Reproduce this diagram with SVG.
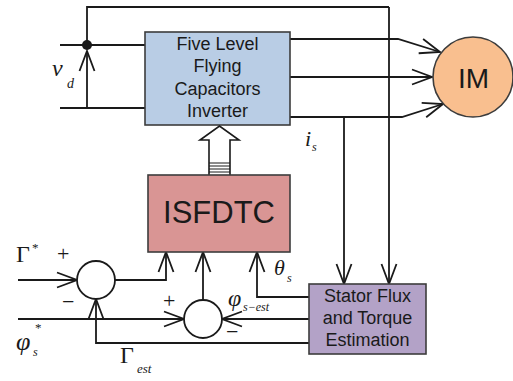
<svg xmlns="http://www.w3.org/2000/svg" width="513" height="381" viewBox="0 0 513 381">
<defs>
<marker id="ah" markerUnits="userSpaceOnUse" viewBox="-22 -9 24 18" refX="0" refY="0" markerWidth="24" markerHeight="18" orient="auto">
<path d="M-20,-7.5 L0,0 L-20,7.5" fill="none" stroke="#1a1a1a" stroke-width="1.8"/>
</marker>
</defs>
<style>
.w{fill:none;stroke:#1a1a1a;stroke-width:1.8}
.a{marker-end:url(#ah)}
.box{stroke:#3c3c3c;stroke-width:1.6}
.t{font-family:"Liberation Sans",Arial,sans-serif;fill:#1a1a1a;text-anchor:middle}
.m{font-family:"Liberation Serif","Times New Roman",serif;fill:#1a1a1a}
.i{font-style:italic}
</style>
<rect width="513" height="381" fill="#fff"/>
<g id="connectors">
<polyline class="w" points="87,45 87,7 389,7"/>
<line class="w a" x1="389" y1="7" x2="389" y2="284"/>
<line class="w" x1="60" y1="45" x2="145" y2="45"/>
<line class="w" x1="60" y1="108" x2="145" y2="108"/>
<line class="w a" x1="87" y1="108" x2="87" y2="51"/>
<circle cx="87" cy="45" r="5" fill="#1a1a1a"/>
<polyline class="w a" points="290,39 398,39 440,52"/>
<line class="w a" x1="290" y1="77" x2="432" y2="77"/>
<polyline class="w a" points="290,117 402,117 443,104"/>
<line class="w a" x1="344" y1="117" x2="344" y2="284"/>
<line class="w a" x1="18" y1="280" x2="77" y2="280"/>
<polyline class="w a" points="115,280 166,280 166,252"/>
<line class="w a" x1="18" y1="319" x2="184" y2="319"/>
<line class="w a" x1="203" y1="300" x2="203" y2="252"/>
<polyline class="w a" points="309,297 257,297 257,252"/>
<line class="w a" x1="309" y1="319" x2="222" y2="319"/>
<polyline class="w a" points="309,343 96,343 96,299"/>
</g>
<g id="inverter">
<rect class="box" x="145" y="32" width="145" height="93" fill="#b9cde5"/>
<text class="t" x="217.5" y="50" font-size="18">Five Level</text>
<text class="t" x="217.5" y="72" font-size="18">Flying</text>
<text class="t" x="217.5" y="95" font-size="18">Capacitors</text>
<text class="t" x="217.5" y="117" font-size="18">Inverter</text>
</g>
<g id="hollow-arrow">
<path d="M209,175 L209,140 L200,140 L219.5,126 L239,140 L230,140 L230,175" fill="#fff" stroke="#1a1a1a" stroke-width="1.6"/>
<path d="M209,163 H230 M209,166 H230 M209,169 H230 M209,172 H230" stroke="#1a1a1a" stroke-width="1"/>
</g>
<g id="isfdtc">
<rect class="box" x="148" y="175" width="142" height="77" fill="#d99594"/>
<text class="t" x="219" y="223" font-size="31">ISFDTC</text>
</g>
<g id="im">
<circle cx="473" cy="77" r="40" fill="#f9bf8f" stroke="#3c3c3c" stroke-width="1.6"/>
<text class="t" x="473.5" y="88" font-size="28">IM</text>
</g>
<g id="stator">
<rect class="box" x="309" y="284" width="117" height="70" fill="#b3a2c7"/>
<text class="t" x="367.5" y="302" font-size="18">Stator Flux</text>
<text class="t" x="367.5" y="324" font-size="18">and Torque</text>
<text class="t" x="367.5" y="346" font-size="18">Estimation</text>
</g>
<g id="sum1">
<circle cx="96" cy="280" r="19" fill="#fff" stroke="#1a1a1a" stroke-width="1.8"/>
</g>
<g id="sum2">
<circle cx="203" cy="319" r="19" fill="#fff" stroke="#1a1a1a" stroke-width="1.8"/>
</g>
<g id="labels">
<text class="m i" x="52" y="76" font-size="24">v</text>
<text class="m i" x="67" y="88" font-size="14">d</text>
<text class="m i" x="305" y="146" font-size="22">i</text>
<text class="m i" x="312" y="151" font-size="12">s</text>
<text class="m" x="16" y="262" font-size="24">Γ</text>
<text class="m" x="32" y="252" font-size="13">*</text>
<text class="m" x="57" y="261" font-size="22">+</text>
<text class="m" x="62" y="309" font-size="22">−</text>
<text class="m i" x="16" y="350" font-size="26">φ</text>
<text class="m i" x="33" y="356" font-size="12">s</text>
<text class="m" x="35" y="332" font-size="13">*</text>
<text class="m" x="120" y="363" font-size="24">Γ</text>
<text class="m i" x="137" y="373" font-size="13">est</text>
<text class="m" x="163" y="308" font-size="22">+</text>
<text class="m" x="226" y="339" font-size="22">−</text>
<text class="m i" x="274" y="275" font-size="22">θ</text>
<text class="m i" x="287" y="282" font-size="12">s</text>
<text class="m i" x="228" y="306" font-size="24">φ</text>
<text class="m i" x="243" y="311" font-size="12">s−est</text>
</g>
</svg>
